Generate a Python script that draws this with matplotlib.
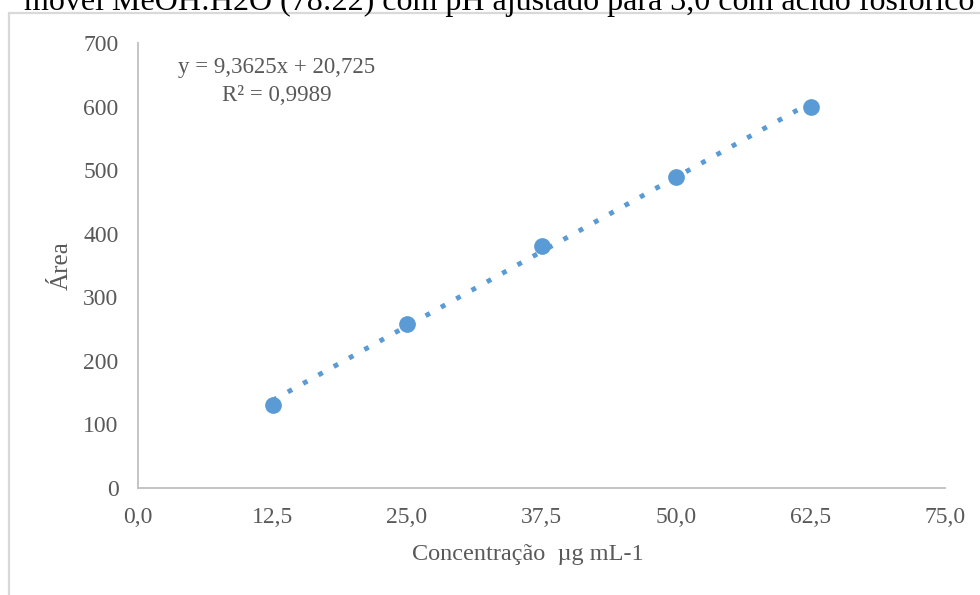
import matplotlib.pyplot as plt
from matplotlib.patches import Rectangle
import numpy as np

# dados da curva
conc = [12.5, 25.0, 37.5, 50.0, 62.5]
area = [131, 258, 380, 490, 600]
slope = 9.3625
intercept = 20.725
xticks = [0, 12.5, 25, 37.5, 50, 62.5, 75]
xticklabels = ["0,0", "12,5", "25,0", "37,5", "50,0", "62,5", "75,0"]
yticks = [0, 100, 200, 300, 400, 500, 600, 700]

plt.rcParams['font.family'] = ['Liberation Serif', 'DejaVu Serif']
gray = '#595959'
blue = '#5B9BD5'

fig = plt.figure(figsize=(9.8, 5.95), dpi=100)
ax = fig.add_axes([138/980, 1-488/595, (945-138)/980, (488-43)/595])

# moldura do grafico (cortada)
fig.patches.append(Rectangle((9/980, -0.1), 1.2, 1-13/595+0.1, transform=fig.transFigure,
                             fill=False, edgecolor='#D9D9D9', lw=1.6))

# titulo cortado no topo
fig.text(0.509, 1-10/595, "móvel MeOH:H2O (78:22) com pH ajustado para 3,0 com ácido fosfórico",
         ha='center', va='baseline', fontsize=23, color='black')

xs = np.array([conc[0], conc[-1]])
ax.plot(xs, slope*xs + intercept, color=blue, lw=3.5, linestyle=(0, (1, 2.6)),
        dash_capstyle='butt', zorder=2)
ax.scatter(conc, area, s=145, color=blue, zorder=3, linewidths=0)

ax.set_xlim(0, 75)
ax.set_ylim(0, 700)
ax.set_xticks(xticks)
ax.set_xticklabels(xticklabels)
ax.set_yticks(yticks)
ax.tick_params(length=0, labelsize=17, labelcolor=gray)
ax.tick_params(axis='x', pad=14)
ax.tick_params(axis='y', pad=14)
for s in ['top', 'right']:
    ax.spines[s].set_visible(False)
for s in ['left', 'bottom']:
    ax.spines[s].set_color('#BFBFBF')
    ax.spines[s].set_linewidth(1.3)

ax.set_xlabel("Concentração  µg mL-1", fontsize=17.5, color=gray, va='center')
ax.set_ylabel("Área", fontsize=18, color=gray, va='center')
ax.xaxis.set_label_coords(0.483, -0.15)
ax.yaxis.set_label_coords(-0.094, 0.50)

ax.text(0.0496, 0.944, "y = 9,3625x + 20,725", transform=ax.transAxes, fontsize=16.5,
        color=gray, ha='left', va='center')
ax.text(0.104, 0.881, "R² = 0,9989", transform=ax.transAxes, fontsize=16.5,
        color=gray, ha='left', va='center')

fig.savefig("out.png", dpi=100)
